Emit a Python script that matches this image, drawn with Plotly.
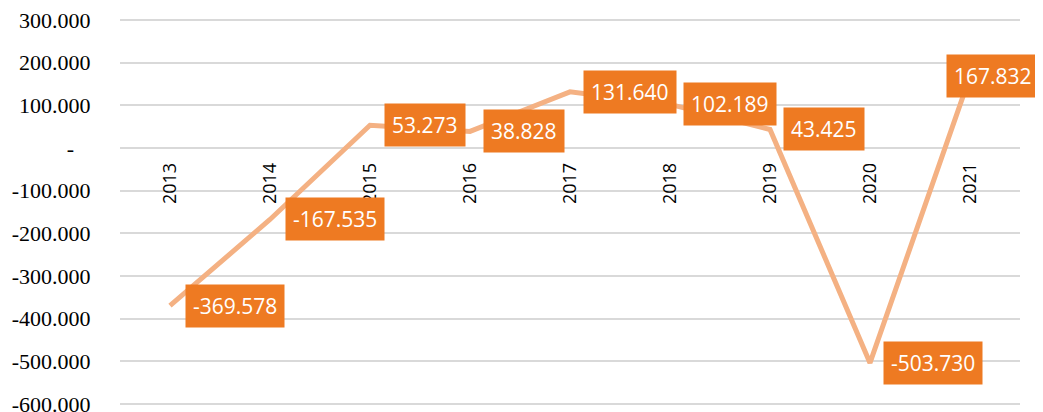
import plotly.graph_objects as go

years = ["2013", "2014", "2015", "2016", "2017", "2018", "2019", "2020", "2021"]
values = [-369578, -167535, 53273, 38828, 131640, 102189, 43425, -503730, 167832]
y_ticks = [300000, 200000, 100000, 0, -100000, -200000, -300000, -400000, -500000, -600000]


def fmt(v):
    if v == 0:
        return "-\u00a0\u00a0\u00a0"
    return f"{v:,}".replace(",", ".")


idx = list(range(len(years)))

fig = go.Figure()
fig.add_trace(go.Scatter(
    x=idx, y=values, mode="lines",
    line=dict(color="#F4B183", width=5),
    hoverinfo="skip", showlegend=False,
))

label_shift = [15, 15, 14, 13, 13, 13, 13, 13, -24]
for i, v, sh in zip(idx, values, label_shift):
    fig.add_annotation(
        x=i, y=v, xref="x", yref="y", text=fmt(v), showarrow=False,
        xanchor="left", yanchor="middle", xshift=sh,
        bgcolor="#EE7A22", borderpad=7,
        font=dict(family="Open Sans", size=21, color="white"),
    )

fig.update_layout(
    width=1035, height=404,
    margin=dict(l=112, r=23, t=11, b=7),
    paper_bgcolor="white", plot_bgcolor="white",
    xaxis=dict(
        anchor="free", position=2 / 3, automargin=False,
        range=[-0.5, 8.5],
        tickvals=idx, ticktext=years,
        showgrid=False, showline=False, zeroline=False,
        tickangle=-90, ticks="outside", ticklen=7, tickcolor="rgba(0,0,0,0)",
        tickfont=dict(family="Open Sans", size=18, color="black"),
    ),
    yaxis=dict(
        range=[-602400, 302400], automargin=False,
        tickvals=y_ticks, ticktext=[fmt(v) for v in y_ticks],
        ticklabeloverflow="allow",
        showgrid=True, gridcolor="#D9D9D9", gridwidth=1.5,
        zeroline=False, showline=False,
        ticks="outside", ticklen=24, tickcolor="rgba(0,0,0,0)",
        tickfont=dict(family="Liberation Serif", size=22, color="black"),
    ),
)

fig.write_html("out.html")
